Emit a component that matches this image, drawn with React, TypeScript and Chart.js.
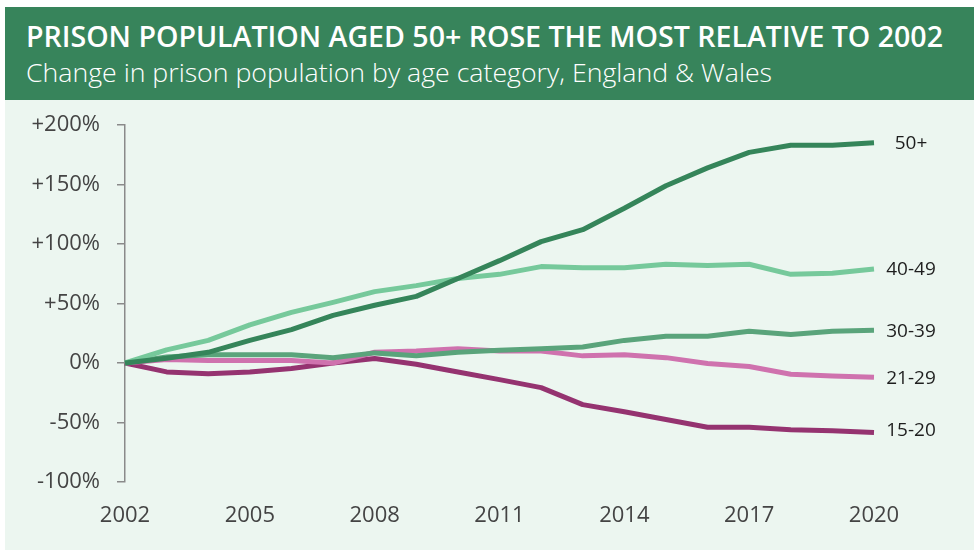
import React, { useEffect, useRef, useMemo } from "react";
import { Chart, registerables } from "chart.js";

Chart.register(...registerables);

const years = ["2002","2003","2004","2005","2006","2007","2008","2009","2010","2011","2012","2013","2014","2015","2016","2017","2018","2019","2020"];
const seriesNames = ["50+", "40-49", "30-39", "21-29", "15-20"];
const age50plus = [0, 4, 9, 19, 28, 40, 48.5, 56, 71, 86, 102, 112, 130, 149, 164, 177, 183, 183, 185];
const age40to49 = [0, 11, 19, 32, 42.5, 51, 60, 65, 71, 74.5, 81, 80, 80, 83, 82, 83, 74.5, 75.5, 79];
const age30to39 = [0, 5, 7, 7, 7, 4.5, 8.5, 6, 9, 10.7, 12, 13.5, 19, 22.5, 22.5, 26.6, 24, 26.6, 27.5];
const age21to29 = [0, 3, 2, 2, 2, 0, 9, 10, 12, 10, 10, 6, 7, 4.5, -0.5, -3, -9.5, -11, -12];
const age15to20 = [0, -7.5, -9, -7.5, -4.7, 0, 3.7, -1, -7.5, -14, -20.7, -35, -41, -47.5, -54, -54, -56, -57, -58.5];
const seriesColors = ["#35855a", "#76c99b", "#5aa47b", "#cf72ae", "#953370"];
const labelNudge = [0, 0, 0, 0, -3];
const yMin = -100;
const yMax = 200;
const yStep = 50;
const xLabelEvery = 3;

const TITLE = "PRISON POPULATION AGED 50+ ROSE THE MOST RELATIVE TO 2002";
const SUBTITLE = "Change in prison population by age category, England & Wales";

function fitScale(text: string, font: string, target: number) {
  const c = document.createElement("canvas");
  const ctx = c.getContext("2d")!;
  ctx.font = font;
  const w = ctx.measureText(text).width;
  return w > 0 ? target / w : 1;
}

const endLabels = {
  id: "endLabels",
  afterDatasetsDraw(chart: any) {
    const ctx = chart.ctx;
    const area = chart.chartArea;
    ctx.save();
    ctx.font = "19px 'Open Sans'";
    ctx.fillStyle = "#1e1e1e";
    ctx.textAlign = "center";
    ctx.textBaseline = "middle";
    chart.data.datasets.forEach((ds: any, i: number) => {
      const meta = chart.getDatasetMeta(i);
      const pt = meta.data[meta.data.length - 1];
      if (!pt) return;
      ctx.fillText(ds.label, area.right + 37, pt.y + 1 + labelNudge[i]);
    });
    ctx.restore();
  },
};

function ChartCanvas() {
  const ref = useRef<HTMLCanvasElement>(null);
  useEffect(() => {
    const values = [age50plus, age40to49, age30to39, age21to29, age15to20];
    const chart = new Chart(ref.current!, {
      type: "line",
      data: {
        labels: years,
        datasets: seriesNames.map((name, i) => ({
          label: name,
          data: values[i],
          borderColor: seriesColors[i],
          backgroundColor: seriesColors[i],
          borderWidth: 5,
          pointRadius: 0,
          tension: 0,
          fill: false,
          borderJoinStyle: "round" as const,
        })),
      },
      options: {
        responsive: false,
        animation: false,
        devicePixelRatio: 1,
        layout: { padding: { left: 5, top: 25, right: 100, bottom: 0 } },
        plugins: { legend: { display: false }, tooltip: { enabled: false }, title: { display: false } },
        scales: {
          x: {
            type: "category",
            offset: false,
            grid: { display: false, drawTicks: false },
            border: { display: false },
            afterFit: (s: any) => { s.height = 68; s.paddingLeft = 0; s.paddingRight = 0; },
            ticks: {
              autoSkip: false,
              maxRotation: 0,
              padding: 21,
              color: "#444444",
              font: { family: "'Open Sans'", size: 22 },
              callback: (_v: any, idx: number) => (idx % xLabelEvery === 0 ? years[idx] : ""),
            },
          },
          y: {
            min: yMin,
            max: yMax,
            afterFit: (s: any) => { s.width = 115; s.paddingTop = 0; s.paddingBottom = 0; },
            grid: { drawOnChartArea: false, drawTicks: true, tickLength: 8, color: "#8a8a8a", lineWidth: 1.5 },
            border: { display: true, color: "#8a8a8a", width: 1.5 },
            ticks: {
              stepSize: yStep,
              padding: 17,
              color: "#444444",
              font: { family: "'Open Sans'", size: 22 },
              callback: (v: any) => (v > 0 ? "+" + v + "%" : v + "%"),
            },
          },
        },
      },
      plugins: [endLabels],
    });
    return () => chart.destroy();
  }, []);
  return <canvas ref={ref} width={969} height={450} style={{ display: "block", width: 969, height: 450 }} />;
}

export default function App() {
  const titleFont = "600 28px 'Open Sans'";
  const subFont = "300 25px 'Open Sans'";
  const tScale = useMemo(() => fitScale(TITLE, titleFont, 917), []);
  const sScale = useMemo(() => fitScale(SUBTITLE, subFont, 746), []);
  return (
    <div style={{ position: "fixed", left: 0, top: 0, width: 974, height: 550, background: "#ffffff", overflow: "hidden" }}>
      <div style={{ position: "absolute", left: 5, top: 7, width: 969, height: 543, background: "#ecf6f0" }}>
        <div style={{ position: "absolute", left: 0, top: 0, width: 969, height: 93, background: "#37845b" }}>
          <div style={{ position: "absolute", left: 21, top: 15, font: titleFont, lineHeight: 1, color: "#ffffff", whiteSpace: "nowrap", transform: `scaleX(${tScale})`, transformOrigin: "0 0" }}>{TITLE}</div>
          <div style={{ position: "absolute", left: 21, top: 53, font: subFont, lineHeight: 1, color: "#ffffff", whiteSpace: "nowrap", transform: `scaleX(${sScale})`, transformOrigin: "0 0" }}>{SUBTITLE}</div>
        </div>
        <div style={{ position: "absolute", left: 0, top: 93 }}>
          <ChartCanvas />
        </div>
      </div>
    </div>
  );
}
